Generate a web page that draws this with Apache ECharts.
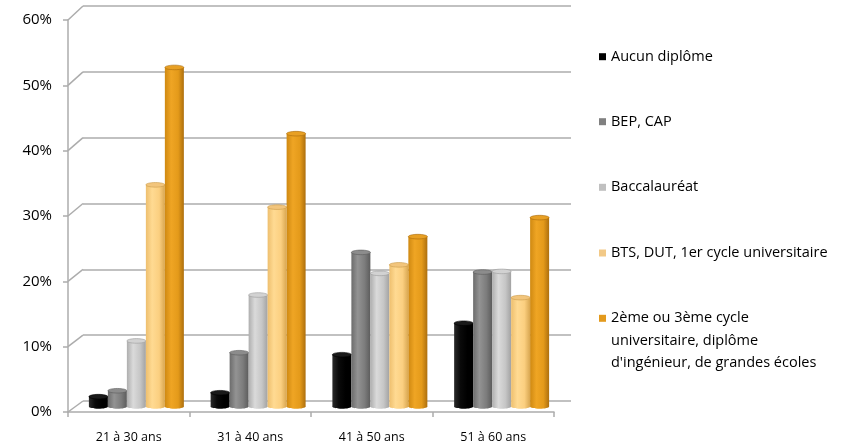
<!DOCTYPE html>
<html>
<head>
<meta charset="utf-8">
<script src="https://cdn.jsdelivr.net/npm/echarts@6/dist/echarts.min.js"></script>
<style>
html,body{margin:0;padding:0;background:#fff;}
#c{width:844px;height:448px;}
</style>
</head>
<body>
<div id="c"></div>
<script>
// ---- data ----
const categories = ['21 à 30 ans', '31 à 40 ans', '41 à 50 ans', '51 à 60 ans'];
const seriesNames = [
  'Aucun diplôme',
  'BEP, CAP',
  'Baccalauréat',
  'BTS, DUT, 1er cycle universitaire',
  "2ème ou 3ème cycle universitaire, diplôme d'ingénieur, de grandes écoles"
];
const lastLegendLines = ['2ème ou 3ème cycle', 'universitaire, diplôme', "d'ingénieur, de grandes écoles"];
const aucun = [1.5, 2.1, 7.9, 12.7];
const bep = [2.4, 8.2, 23.5, 20.5];
const bac = [10.0, 17.0, 20.3, 20.6];
const bts = [33.8, 30.4, 21.6, 16.6];
const superieur = [51.7, 41.6, 25.9, 28.8];
const yTicks = [0, 10, 20, 30, 40, 50, 60];

// ---- style ----
const FONT = 'Open Sans';
const legendColors = ['#000000', '#808080', '#c0c0c0', '#f2c987', '#e39a1d'];
const bodyStops = [
  ['#2a2a2a', '#0a0a0a', '#000000', '#000000'],
  ['#6c6c6c', '#939393', '#7c7c7c', '#5c5c5c'],
  ['#aeaeae', '#dadada', '#c6c6c6', '#a2a2a2'],
  ['#eebf6e', '#ffda92', '#fbcf80', '#d8a650'],
  ['#cf8912', '#efa524', '#e49a1a', '#ad6f0e']
];
const capColors = ['#1a1a1a', '#8c8c8c', '#d2d2d2', '#f2c57c', '#e8a024'];
const edgeColors = ['#000', '#5a5a5a', '#9a9a9a', '#c99a4a', '#a86a0c'];

// layout constants
const FRONT = {left: 68, right: 844 - 554, top: 20, bottom: 448 - 412};
const BACK = {left: 83, right: 844 - 571, top: 6, bottom: 448 - 401};
const MID = {left: 75.5, right: 844 - 562.5, top: 13, bottom: 448 - 406.5};
const GROUP_FRAC = 0.78;

const allValues = [aucun, bep, bac, bts, superieur];

function makeSeries(idx) {
  return {
    type: 'custom',
    name: seriesNames[idx],
    xAxisIndex: 2,
    yAxisIndex: 2,
    itemStyle: {color: legendColors[idx]},
    data: allValues[idx].map((v, i) => [i, v]),
    renderItem: function (params, api) {
      const c = api.value(0), v = api.value(1);
      const p0 = api.coord([c, 0]);
      const p1 = api.coord([c, v]);
      const band = api.size([1, 0])[0];
      const w = band * GROUP_FRAC / 5;
      const x = p0[0] - band * GROUP_FRAC / 2 + idx * w;
      const ry = 2.3;
      const s = bodyStops[idx];
      const grad = new echarts.graphic.LinearGradient(0, 0, 1, 0, [
        {offset: 0, color: s[0]},
        {offset: 0.33, color: s[1]},
        {offset: 0.7, color: s[2]},
        {offset: 1, color: s[3]}
      ]);
      return {
        type: 'group',
        children: [
          {type: 'ellipse', shape: {cx: x + w / 2, cy: p0[1], rx: w / 2, ry: ry}, style: {fill: grad}},
          {type: 'rect', shape: {x: x, y: p1[1], width: w, height: p0[1] - p1[1]}, style: {fill: grad}},
          {type: 'ellipse', shape: {cx: x + w / 2, cy: p1[1], rx: w / 2, ry: ry},
            style: {fill: capColors[idx], stroke: edgeColors[idx], lineWidth: 0.6}}
        ]
      };
    }
  };
}

const legendCenters = [56.7, 121.7, 187.3, 253, 318.3];
const LH = 21.5;
const legendBase = {
  orient: 'vertical', left: 599, padding: 0, itemWidth: 7, itemHeight: 7, itemGap: 0,
  selectedMode: false, icon: 'rect',
  textStyle: {fontFamily: FONT, fontSize: 14.5, color: '#000', lineHeight: LH}
};
const legends = seriesNames.map((n, i) => Object.assign({}, legendBase, {
  top: legendCenters[i] - LH / 2,
  formatter: i === 4 ? function () { return lastLegendLines[0]; } : '{name}',
  data: [{name: n, itemStyle: {color: legendColors[i]}}]
}));
// continuation lines of the last legend entry (no icon)
legends.push(Object.assign({}, legendBase, {
  top: legendCenters[4] + LH / 2 + 1.5,
  icon: 'none',
  formatter: function () { return lastLegendLines[1] + '\n' + lastLegendLines[2]; },
  data: [{name: seriesNames[4]}]
}));

const chart = echarts.init(document.getElementById('c'), null, {renderer: 'canvas'});
const GRID_COLOR = '#acacac';
chart.setOption({
  animation: false,
  backgroundColor: '#fff',
  grid: [FRONT, BACK, MID].map(g => Object.assign({containLabel: false}, g)),
  legend: legends,
  xAxis: [
    {
      gridIndex: 0, type: 'category', data: categories, boundaryGap: true,
      axisLine: {show: true, lineStyle: {color: GRID_COLOR, width: 1.5}},
      axisTick: {show: true, length: 5, lineStyle: {color: GRID_COLOR, width: 1.5}},
      axisLabel: {fontFamily: FONT, fontSize: 12.5, color: '#000', margin: 19}
    },
    {gridIndex: 1, type: 'category', data: categories, show: false},
    {gridIndex: 2, type: 'category', data: categories, show: false}
  ],
  yAxis: [
    {
      gridIndex: 0, type: 'value', min: 0, max: 60, interval: 10,
      axisLine: {show: true, lineStyle: {color: GRID_COLOR, width: 1.5}},
      axisTick: {show: true, length: 5, lineStyle: {color: GRID_COLOR, width: 1.5}},
      splitLine: {show: false},
      axisLabel: {fontFamily: FONT, fontSize: 15, color: '#000', margin: 16, formatter: '{value}%'}
    },
    {
      gridIndex: 1, type: 'value', min: 0, max: 60, interval: 10,
      axisLine: {show: false}, axisTick: {show: false}, axisLabel: {show: false},
      splitLine: {show: true, lineStyle: {color: GRID_COLOR, width: 1.5}}
    },
    {
      gridIndex: 2, type: 'value', min: 0, max: 60, interval: 10, show: false,
      splitLine: {show: false}
    }
  ],
  series: [0, 1, 2, 3, 4].map(makeSeries)
});

// diagonal connectors between front axis ticks and back-wall gridlines
const diag = yTicks.map(v => {
  const yF = chart.convertToPixel({yAxisIndex: 0}, v);
  const yB = chart.convertToPixel({yAxisIndex: 1}, v);
  return {
    type: 'line', z: 1, silent: true,
    shape: {x1: FRONT.left, y1: yF, x2: BACK.left, y2: yB},
    style: {stroke: GRID_COLOR, lineWidth: 1.5}
  };
});
chart.setOption({graphic: diag});
</script>
</body>
</html>
